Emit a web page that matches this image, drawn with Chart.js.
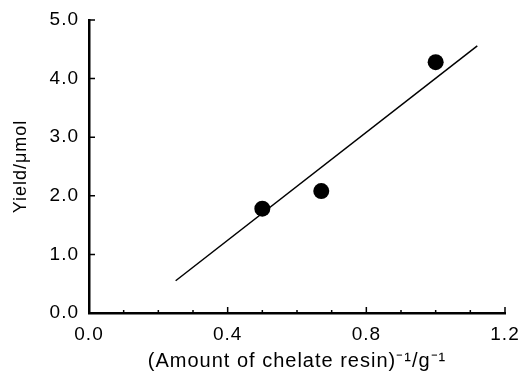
<!DOCTYPE html>
<html>
<head>
<meta charset="utf-8">
<script src="https://cdn.jsdelivr.net/npm/chart.js@4"></script>
<style>
  html, body { margin: 0; padding: 0; background: #fff; }
  #wrap { width: 519px; height: 375px; }
</style>
</head>
<body>
<div id="wrap"><canvas id="chart" width="519" height="375"></canvas></div>
<script>
// measured points
const resinInv = [0.5, 0.67, 1.0];
const yieldUmol = [1.78, 2.08, 4.28];

// fitted line
const fitX = [0.25, 1.12];
const fitY = [0.55, 4.56];

const xTicks = [0.0, 0.4, 0.8, 1.2];
const xMinorTicks = [0.1, 0.2, 0.3, 0.5, 0.6, 0.7, 0.9, 1.0, 1.1];
const yTicks = [0.0, 1.0, 2.0, 3.0, 4.0, 5.0];

const FONT = 'Liberation Sans, Arial, Helvetica, sans-serif';

// the scanned figure uses a wide Helvetica, so space letters out a bit
const wideText = {
  id: 'wideText',
  beforeDraw(chart) { chart.ctx.letterSpacing = '1px'; },
  afterDraw(chart) { chart.ctx.letterSpacing = '0px'; }
};

// ticks drawn inward, like the original figure
const inwardTicks = {
  id: 'inwardTicks',
  afterDraw(chart) {
    const { ctx, scales: { x, y } } = chart;
    ctx.save();
    ctx.strokeStyle = '#000';
    ctx.lineWidth = 1.5;
    ctx.beginPath();
    xTicks.forEach(v => {
      const px = x.getPixelForValue(v);
      ctx.moveTo(px, y.bottom);
      ctx.lineTo(px, y.bottom - 6);
    });
    xMinorTicks.forEach(v => {
      const px = x.getPixelForValue(v);
      ctx.moveTo(px, y.bottom);
      ctx.lineTo(px, y.bottom - 3);
    });
    yTicks.forEach(v => {
      const py = y.getPixelForValue(v);
      ctx.moveTo(x.left, py);
      ctx.lineTo(x.left + 6, py);
    });
    ctx.stroke();
    ctx.restore();
  }
};

new Chart(document.getElementById('chart'), {
  type: 'scatter',
  data: {
    datasets: [
      {
        label: 'fit',
        data: fitX.map((v, i) => ({ x: v, y: fitY[i] })),
        showLine: true,
        borderColor: '#000',
        borderWidth: 1.5,
        pointRadius: 0,
        fill: false
      },
      {
        label: 'yield',
        data: resinInv.map((v, i) => ({ x: v, y: yieldUmol[i] })),
        backgroundColor: '#000',
        borderColor: '#000',
        pointRadius: 8,
        pointBorderWidth: 0
      }
    ]
  },
  options: {
    responsive: false,
    animation: false,
    layout: { padding: { top: 20, right: 14, left: 0, bottom: 0 } },
    plugins: {
      legend: { display: false },
      tooltip: { enabled: false }
    },
    scales: {
      x: {
        type: 'linear',
        min: 0,
        max: 1.2,
        afterBuildTicks: s => { s.ticks = xTicks.map(v => ({ value: v })); },
        afterFit: s => { s.height = 62; s.paddingLeft = 0; s.paddingRight = 0; },
        grid: { display: true, drawOnChartArea: false, drawTicks: false },
        border: { display: true, color: '#000', width: 2.5 },
        ticks: {
          color: '#000',
          padding: 10,
          maxRotation: 0,
          font: { family: FONT, size: 19 },
          callback: v => v.toFixed(1)
        },
        title: {
          display: true,
          text: '(Amount of chelate resin)⁻¹/g⁻¹',
          color: '#000',
          font: { family: FONT, size: 20 },
          padding: { top: 0, bottom: 2 }
        }
      },
      y: {
        type: 'linear',
        min: 0,
        max: 5,
        afterBuildTicks: s => { s.ticks = yTicks.map(v => ({ value: v })); },
        afterFit: s => { s.width = 89; s.paddingTop = 0; s.paddingBottom = 0; },
        grid: { display: true, drawOnChartArea: false, drawTicks: false },
        border: { display: true, color: '#000', width: 2.5 },
        ticks: {
          color: '#000',
          padding: 10,
          font: { family: FONT, size: 19 },
          callback: v => v.toFixed(1)
        },
        title: {
          display: true,
          text: 'Yield/μmol',
          color: '#000',
          font: { family: FONT, size: 18 },
          padding: { top: 10, bottom: 0 }
        }
      }
    }
  },
  plugins: [wideText, inwardTicks]
});
</script>
</body>
</html>
